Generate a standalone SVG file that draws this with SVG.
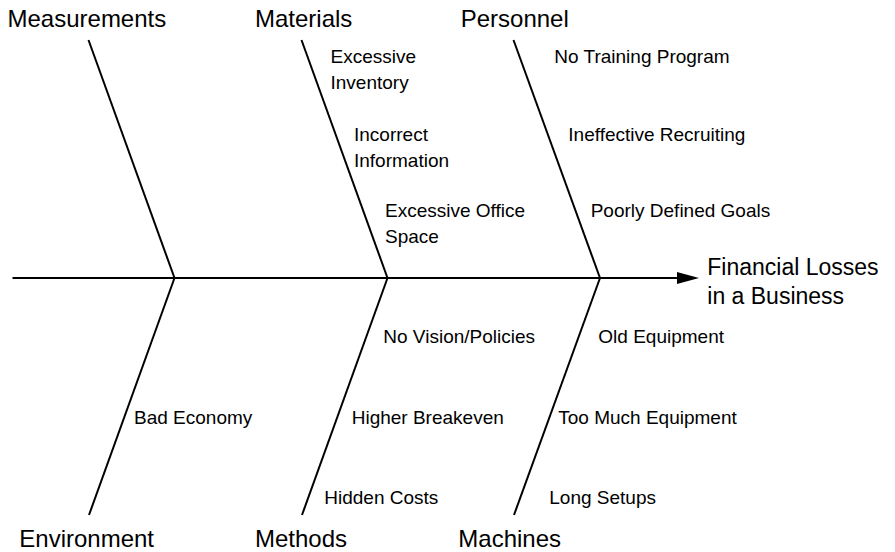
<svg xmlns="http://www.w3.org/2000/svg" width="895" height="552" viewBox="0 0 895 552">
  <style>
    text { font-family: "Liberation Sans", Arial, Helvetica, sans-serif; fill: #000; }
    .cat { font-size: 24px; }
    .cause { font-size: 19px; }
    .effect { font-size: 23px; }
    .bone { stroke: #000; stroke-width: 2; fill: none; }
  </style>
  <defs>
    <marker id="arrow" markerUnits="userSpaceOnUse" markerWidth="22" markerHeight="12" refX="13" refY="6" orient="auto">
      <path d="M0,0 L22,6 L0,12 Z" fill="#000"/>
    </marker>
  </defs>
  <rect width="895" height="552" fill="#fff"/>

  <g id="connectors">
    <line class="bone" x1="12.5" y1="278" x2="690" y2="278" marker-end="url(#arrow)"/>
    <line class="bone" x1="88.5" y1="40" x2="174.5" y2="278"/>
    <line class="bone" x1="301.5" y1="40" x2="387.5" y2="278"/>
    <line class="bone" x1="513.5" y1="40" x2="600" y2="278"/>
    <line class="bone" x1="174.5" y1="278" x2="89" y2="515"/>
    <line class="bone" x1="387.5" y1="278" x2="302" y2="515"/>
    <line class="bone" x1="600" y1="278" x2="514" y2="515"/>
  </g>

  <g id="measurements">
    <text class="cat" x="7.5" y="27.3">Measurements</text>
  </g>

  <g id="materials">
    <text class="cat" x="255" y="27.3">Materials</text>
    <text class="cause" x="330.5" y="63.3">Excessive</text>
    <text class="cause" x="330.5" y="89.3">Inventory</text>
    <text class="cause" x="354" y="140.7">Incorrect</text>
    <text class="cause" x="354" y="166.7">Information</text>
    <text class="cause" x="385" y="216.7">Excessive Office</text>
    <text class="cause" x="385" y="242.7">Space</text>
  </g>

  <g id="personnel">
    <text class="cat" x="460.7" y="27.3">Personnel</text>
    <text class="cause" x="554.3" y="62.7">No Training Program</text>
    <text class="cause" x="568.3" y="140.7">Ineffective Recruiting</text>
    <text class="cause" x="590.7" y="216.7">Poorly Defined Goals</text>
  </g>

  <g id="environment">
    <text class="cat" x="19.3" y="547">Environment</text>
    <text class="cause" x="134" y="424">Bad Economy</text>
  </g>

  <g id="methods">
    <text class="cat" x="255" y="547">Methods</text>
    <text class="cause" x="383.3" y="343.3">No Vision/Policies</text>
    <text class="cause" x="351.7" y="424">Higher Breakeven</text>
    <text class="cause" x="324.3" y="504.3">Hidden Costs</text>
  </g>

  <g id="machines">
    <text class="cat" x="458.3" y="547">Machines</text>
    <text class="cause" x="598.3" y="343.3">Old Equipment</text>
    <text class="cause" x="558.3" y="424">Too Much Equipment</text>
    <text class="cause" x="549.3" y="504.3">Long Setups</text>
  </g>

  <g id="effect">
    <text class="effect" x="707.3" y="275">Financial Losses</text>
    <text class="effect" x="707.3" y="303.5">in a Business</text>
  </g>
</svg>
